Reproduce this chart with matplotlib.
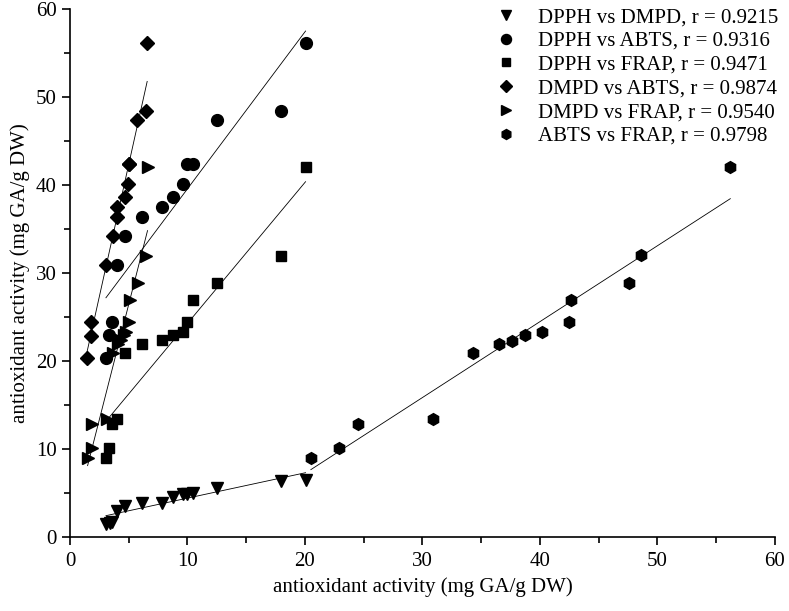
import numpy as np
import matplotlib
matplotlib.use("Agg")
from matplotlib import pyplot as plt

plt.rcParams['font.family'] = ['Liberation Serif', 'DejaVu Serif']

# DPPH vs DMPD
dpph_dmpd_x = [3.06, 3.4, 3.6, 4.02, 4.67, 6.15, 7.87, 8.78, 9.66, 10.0, 10.5, 12.5, 17.98, 20.05]
dpph_dmpd_y = [1.48, 1.6, 1.74, 3.0, 3.56, 3.86, 3.86, 4.58, 4.85, 4.9, 4.96, 5.62, 6.4, 6.45]
# DPPH vs ABTS
dpph_abts_x = [3.06, 3.31, 3.6, 4.02, 4.67, 6.15, 7.87, 8.78, 9.66, 10.0, 10.5, 12.5, 17.98, 20.05]
dpph_abts_y = [20.4, 23.0, 24.5, 30.9, 34.2, 36.4, 37.5, 38.6, 40.1, 42.4, 42.4, 47.4, 48.4, 56.1]
# DPPH vs FRAP
dpph_frap_x = [3.06, 3.34, 3.6, 4.02, 4.67, 6.15, 7.87, 8.78, 9.66, 10.0, 10.5, 12.5, 17.98, 20.05]
dpph_frap_y = [9.0, 10.1, 12.9, 13.4, 20.9, 22.0, 22.4, 23.0, 23.3, 24.4, 27.0, 28.9, 32.0, 42.1]
# DMPD vs ABTS
dmpd_abts_x = [1.41, 1.78, 1.78, 3.06, 3.68, 4.02, 4.02, 4.67, 4.96, 5.04, 5.04, 5.72, 6.46, 6.57]
dmpd_abts_y = [20.4, 22.9, 24.5, 30.9, 34.2, 36.4, 37.5, 38.6, 40.1, 42.4, 42.4, 47.4, 48.4, 56.1]
# DMPD vs FRAP
dmpd_frap_x = [1.5, 1.85, 1.85, 3.15, 3.7, 4.05, 4.3, 4.6, 4.8, 5.0, 5.15, 5.75, 6.45, 6.6]
dmpd_frap_y = [9.0, 10.1, 12.9, 13.4, 20.9, 22.0, 22.4, 23.0, 23.3, 24.4, 27.0, 28.9, 32.0, 42.1]
# ABTS vs FRAP
abts_frap_x = [20.5, 22.9, 24.5, 30.9, 34.3, 36.5, 37.6, 38.7, 40.2, 42.5, 42.6, 47.6, 48.6, 56.2]
abts_frap_y = [9.0, 10.1, 12.9, 13.4, 20.9, 22.0, 22.3, 23.0, 23.3, 24.4, 27.0, 28.9, 32.1, 42.1]

series = [
    (dpph_dmpd_x, dpph_dmpd_y, "v", 9, "DPPH vs DMPD, r = 0.9215"),
    (dpph_abts_x, dpph_abts_y, "o", 8.5, "DPPH vs ABTS, r = 0.9316"),
    (dpph_frap_x, dpph_frap_y, "s", 7.5, "DPPH vs FRAP, r = 0.9471"),
    (dmpd_abts_x, dmpd_abts_y, "D", 7.5, "DMPD vs ABTS, r = 0.9874"),
    (dmpd_frap_x, dmpd_frap_y, ">", 9, "DMPD vs FRAP, r = 0.9540"),
    (abts_frap_x, abts_frap_y, "h", 8.5, "ABTS vs FRAP, r = 0.9798"),
]

fig = plt.figure(figsize=(7.89, 6.11), dpi=100)
ax = fig.add_axes([0.0887, 0.121, 0.8935, 0.864])

for x, y, marker, ms, label in series:
    x = np.array(x)
    y = np.array(y)
    ax.plot(x, y, linestyle="none", marker=marker, markersize=ms,
            color="black", label=label)
    slope, intercept = np.polyfit(x, y, 1)
    xs = np.array([x.min(), x.max()])
    ax.plot(xs, slope * xs + intercept, color="black", linewidth=0.6)

ax.set_xlim(0, 60)
ax.set_ylim(0, 60)
ax.set_xticks(np.arange(0, 61, 10))
ax.set_yticks(np.arange(0, 61, 10))
ax.set_xticks(np.arange(5, 60, 10), minor=True)
ax.set_yticks(np.arange(5, 60, 10), minor=True)
ax.tick_params(which="major", direction="out", length=6, width=1.2, labelsize=15)
ax.tick_params(axis="x", which="major", pad=5)
ax.tick_params(which="minor", direction="out", length=4, width=1.2)
ax.spines["top"].set_visible(False)
ax.spines["right"].set_visible(False)
ax.spines["left"].set_linewidth(1.2)
ax.spines["bottom"].set_linewidth(1.2)

ax.set_xlabel("antioxidant activity (mg GA/g DW)", fontsize=15, labelpad=4)
ax.set_ylabel("antioxidant activity (mg GA/g DW)", fontsize=15, labelpad=4)

ax.legend(loc="upper right", frameon=False, fontsize=15, handletextpad=0.5,
          labelspacing=0.2, borderaxespad=0.0, markerscale=0.85,
          bbox_to_anchor=(1.016, 1.019))

fig.savefig("out.png", dpi=100)
